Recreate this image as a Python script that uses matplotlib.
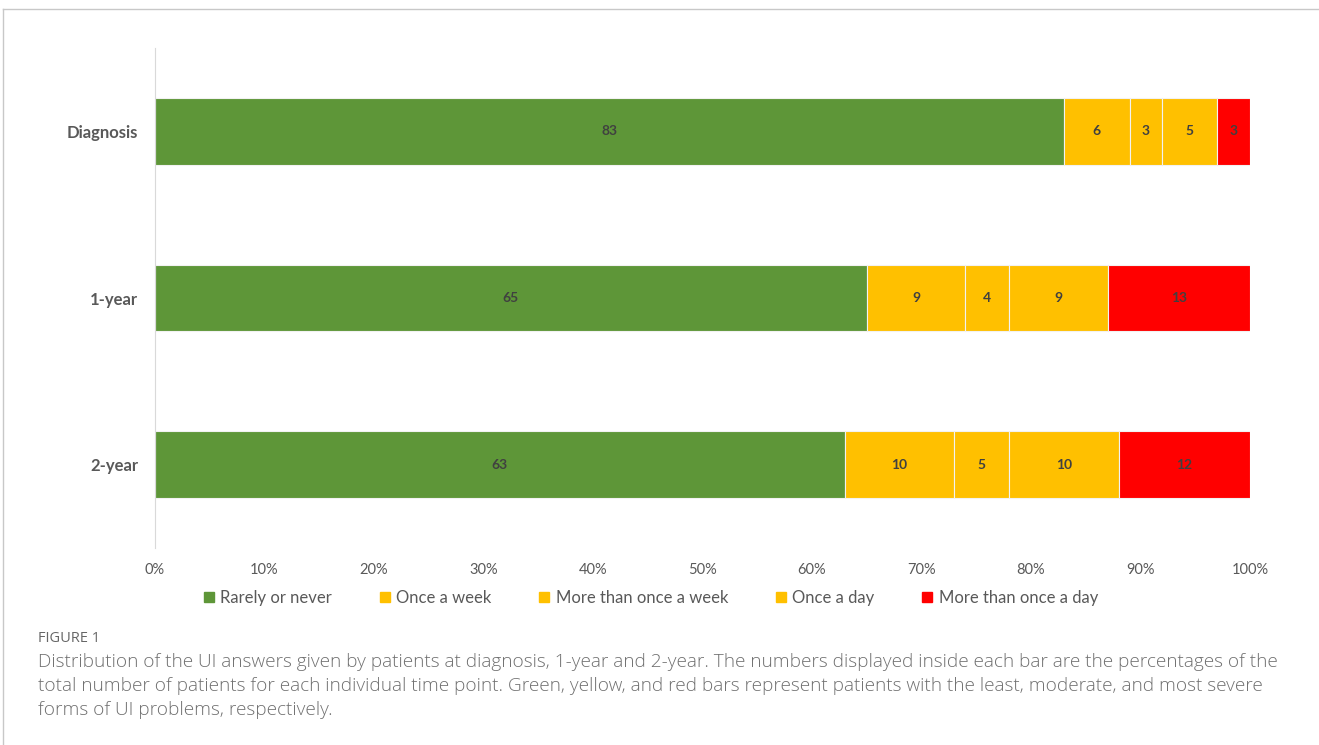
import matplotlib.pyplot as plt
from matplotlib.lines import Line2D
import numpy as np

# Share of patients (%) per UI answer at each time point
time_points = ['Diagnosis', '1-year', '2-year']
answers = ['Rarely or never', 'Once a week', 'More than once a week',
           'Once a day', 'More than once a day']
rarely = [83, 65, 63]
once_week = [6, 9, 10]
more_week = [3, 4, 5]
once_day = [5, 9, 10]
more_day = [3, 13, 12]
ticks = [0, 10, 20, 30, 40, 50, 60, 70, 80, 90, 100]

series = [rarely, once_week, more_week, once_day, more_day]
colors = ['#5E9638', '#FFC000', '#FFC000', '#FFC000', '#FF0000']

fig = plt.figure(figsize=(13.19, 7.45), dpi=100)
ax = fig.add_axes([155 / 1319, 1 - 548 / 745, 1095 / 1319, 500 / 745])

y = np.arange(len(time_points))
left = np.zeros(len(time_points))
for vals, col in zip(series, colors):
    vals = np.array(vals)
    bars = ax.barh(y, vals, left=left, height=0.4, color=col,
                   edgecolor='#F2F2F2', linewidth=0.8)
    for b, v in zip(bars, vals):
        ax.text(b.get_x() + b.get_width() / 2, b.get_y() + b.get_height() / 2,
                str(v), ha='center', va='center', fontsize=10,
                fontweight='bold', color='#404040', family='Lato')
    left += vals

ax.set_ylim(len(time_points) - 0.5, -0.5)
ax.set_xlim(0, 100)
ax.set_yticks(y)
ax.set_yticklabels(time_points, fontsize=12, fontweight='bold',
                   color='#595959', family='Lato')
ax.set_xticks(ticks)
ax.set_xticklabels([f'{t}%' for t in ticks], fontsize=10.5,
                   color='#595959', family='Lato')
ax.tick_params(axis='both', length=0)
ax.tick_params(axis='x', pad=11)
ax.tick_params(axis='y', pad=12)
for s in ['top', 'right', 'bottom']:
    ax.spines[s].set_visible(False)
ax.spines['left'].set_color('#D9D9D9')
ax.spines['left'].set_linewidth(0.8)

handles = [Line2D([], [], marker='s', linestyle='none', markersize=7.5,
                  markerfacecolor=c, markeredgecolor=c) for c in colors]
leg = fig.legend(handles, answers, loc='center', bbox_to_anchor=(650 / 1319, 1 - 598 / 745),
                 ncol=5, frameon=False, handlelength=0.8, handletextpad=0.3,
                 columnspacing=2.75, prop={'family': 'Lato', 'size': 12})
for t in leg.get_texts():
    t.set_color('#595959')

# caption block below the chart
fig.text(38 / 1319, 1 - 638 / 745, 'FIGURE 1', fontsize=10.5, color='#666666',
         family='Open Sans', va='center')
caption = ('Distribution of the UI answers given by patients at diagnosis, 1-year and 2-year. '
           'The numbers displayed inside each bar are the percentages of the\n'
           'total number of patients for each individual time point. Green, yellow, and red bars '
           'represent patients with the least, moderate, and most severe\n'
           'forms of UI problems, respectively.')
fig.text(38 / 1319, 1 - 653 / 745, caption, fontsize=13.7, color='#707070',
         family='Open Sans', fontweight='light', va='top', linespacing=1.42)

# thin frame along the top and left edges
fig.add_artist(Line2D([3 / 1319, 1], [1 - 9 / 745, 1 - 9 / 745], color='#C8C8C8', lw=1))
fig.add_artist(Line2D([3 / 1319, 3 / 1319], [0, 1 - 9 / 745], color='#C8C8C8', lw=1))

fig.savefig('out.png', dpi=100)
